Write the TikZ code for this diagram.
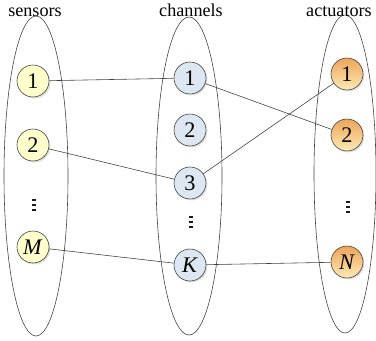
\documentclass[tikz,border=0pt]{standalone}
\usepackage{fontspec}
\setmainfont{Liberation Serif}
\usetikzlibrary{shapes.geometric, shadows, positioning}
\definecolor{sensfill}{HTML}{FFFFCC}
\definecolor{chanfill}{HTML}{DCE7F2}
\definecolor{acttop}{HTML}{EEA45A}
\definecolor{actbot}{HTML}{FCEBB4}

\begin{document}
\begin{tikzpicture}[
    x=0.03cm, y=-0.03cm,
    % Node styles
    group/.style={
        ellipse,
        draw=black!75,
        line width=0.5pt,
        inner sep=0pt
    },
    unit/.style={
        circle,
        draw=black!75,
        line width=0.5pt,
        minimum size=0.96cm,
        inner sep=0pt,
        font=\fontsize{19}{20}\selectfont,
        drop shadow={shadow xshift=1.2pt, shadow yshift=-1.2pt, opacity=0.25}
    },
    sensor/.style={unit, fill=sensfill},
    channel/.style={unit, fill=chanfill},
    actuator/.style={unit, top color=acttop, bottom color=actbot},
    grouplabel/.style={
        font=\fontsize{15.5}{17}\selectfont,
        anchor=base
    },
    dotsnode/.style={
        circle,
        inner sep=0pt,
        minimum size=0.3cm
    },
    link/.style={
        black!75,
        line width=0.5pt
    }
]
\useasboundingbox (0,0) rectangle (376,340);

% --- Group ellipses ---
\node[group, minimum width=1.92cm, minimum height=9.6cm] (sens) at (36,176) {};
\node[group, minimum width=1.98cm, minimum height=9.54cm] (chan) at (189,176) {};
\node[group, minimum width=1.86cm, minimum height=9.54cm] (act) at (345,174) {};

\node[grouplabel] (senslabel) at (35,17) {sensors};
\node[grouplabel] (chanlabel) at (191,17) {channels};
\node[grouplabel] (actlabel) at (339,17) {actuators};

% --- Sensors ---
\node[sensor] (s1) at (33,81) {1};
\node[sensor] (s2) at (33,145) {2};
\node[dotsnode] (sdots) at (34,205) {};
\node[sensor] (sM) at (33,247) {\textit{M}};

% --- Channels ---
\node[channel] (c1) at (190,78) {1};
\node[channel] (c2) at (190,130) {2};
\node[channel] (c3) at (190,183) {3};
\node[dotsnode] (cdots) at (191,222) {};
\node[channel] (cK) at (190,265) {\textit{K}};

% --- Actuators ---
\node[actuator] (a1) at (347,74) {1};
\node[actuator] (a2) at (347,135) {2};
\node[dotsnode] (adots) at (348,207) {};
\node[actuator] (aN) at (347,262) {\textit{N}};

% vertical dots
\foreach \d in {sdots, cdots, adots}
    \foreach \k in {-4.7,0,4.7}
        \fill[black!90] ([yshift=-\k*0.03cm]\d.center) ++(-1.6pt,-1pt) rectangle ++(3.2pt,2pt);

% --- Links ---
\draw[link] (s1) -- (c1);
\draw[link] (s2) -- (c3);
\draw[link] (sM) -- (cK);
\draw[link] (c1) -- (a2);
\draw[link] (c3) -- (a1);
\draw[link] (cK) -- (aN);

\end{tikzpicture}
\end{document}
